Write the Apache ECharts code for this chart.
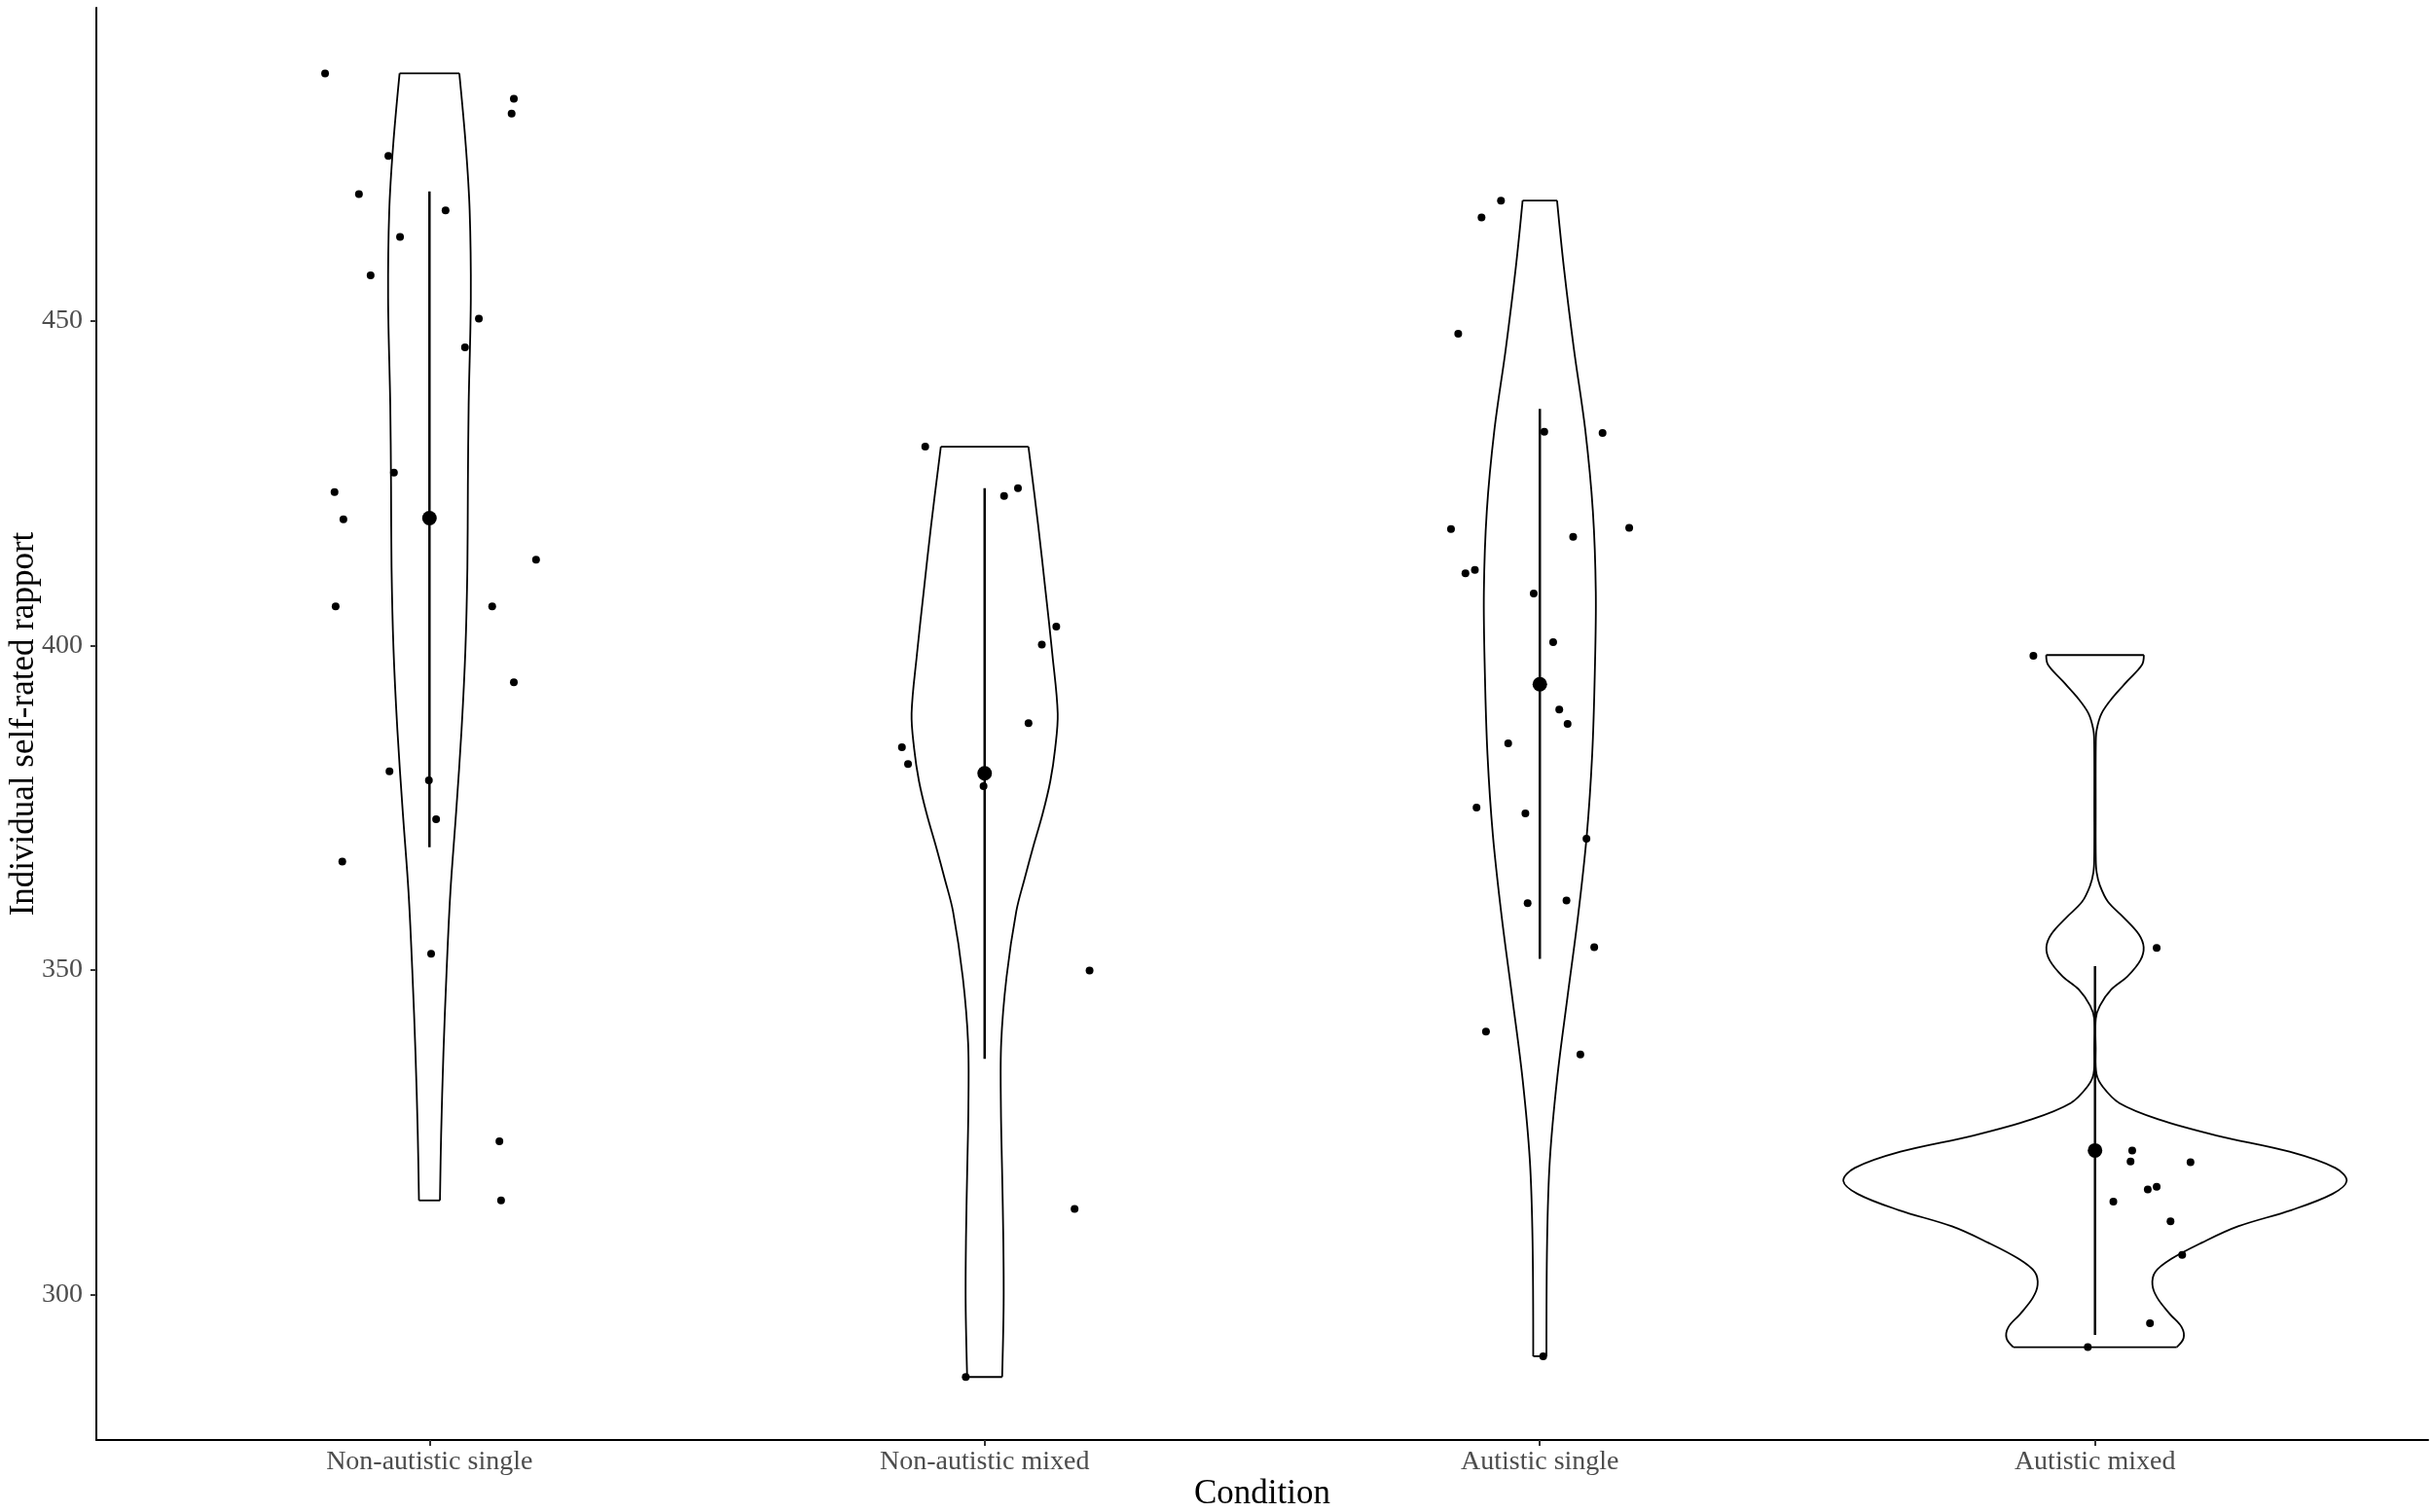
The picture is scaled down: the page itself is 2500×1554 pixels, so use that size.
<!DOCTYPE html>
<html>
<head>
<meta charset="utf-8">
<script src="https://cdn.jsdelivr.net/npm/echarts@6/dist/echarts.min.js"></script>
<style>
  html, body { margin: 0; padding: 0; background: #ffffff; }
  #chart { width: 2500px; height: 1554px; }
</style>
</head>
<body>
<div id="chart"></div>
<script>
// ---------------- DATA ----------------
const categories = ['Non-autistic single', 'Non-autistic mixed', 'Autistic single', 'Autistic mixed'];
const yTicks = [300, 350, 400, 450];

// Individual observations (value) and their horizontal jitter (x-axis units)
const nasValues = [488.1, 484.2, 481.9, 475.4, 469.5, 467.0, 462.9, 457.0, 450.3, 445.9, 426.6, 423.6,
                   419.4, 413.2, 406.0, 406.0, 394.3, 380.6, 379.2, 373.2, 366.7, 352.5, 323.6, 314.5];
const nasJitter = [-0.188, 0.152, 0.148, -0.074, -0.127, 0.029, -0.053, -0.106, 0.089, 0.064, -0.064, -0.171,
                   -0.155, 0.192, -0.169, 0.113, 0.152, -0.072, -0.001, 0.012, -0.157, 0.003, 0.126, 0.129];

const namValues = [430.6, 423.0, 424.2, 402.9, 400.1, 388.0, 384.3, 381.7, 378.3, 349.9, 313.2, 287.3];
const namJitter = [-0.107, 0.035, 0.060, 0.129, 0.103, 0.079, -0.149, -0.138, -0.002, 0.189, 0.162, -0.034];

const asValues = [468.5, 465.9, 448.0, 432.9, 432.7, 417.9, 418.1, 416.7, 411.1, 411.6, 408.0, 400.5,
                  390.1, 387.9, 384.9, 375.0, 374.1, 370.2, 360.3, 360.7, 353.5, 340.5, 337.0, 290.5];
const asJitter = [-0.070, -0.105, -0.147, 0.008, 0.113, -0.160, 0.161, 0.060, -0.134, -0.117, -0.011, 0.024,
                  0.035, 0.050, -0.057, -0.114, -0.026, 0.084, -0.022, 0.048, 0.098, -0.097, 0.073, 0.006];

const amValues = [398.4, 353.4, 322.2, 320.5, 320.4, 316.6, 316.2, 314.3, 311.3, 306.1, 295.6, 291.9];
const amJitter = [-0.111, 0.111, 0.067, 0.064, 0.172, 0.111, 0.095, 0.033, 0.136, 0.157, 0.099, -0.013];

// Summary: mean and error bar limits
const meanValues  = [419.6, 380.3, 394.0, 322.2];
const lowerValues = [368.9, 336.3, 351.7, 293.8];
const upperValues = [469.9, 424.2, 436.4, 350.6];

// Violin outlines: value levels (top -> bottom) and half-widths in x-axis units
const nasViolinY = [488.1, 477.0, 467.0, 453.5, 437.0, 424.5, 412.0, 399.5, 387.0, 374.5, 362.0, 349.5, 337.0, 324.5, 314.5];
const nasViolinW = [0.0538, 0.0654, 0.0724, 0.0745, 0.0706, 0.0692, 0.0683, 0.0648, 0.0578, 0.0482, 0.0377, 0.0307, 0.0251, 0.0210, 0.0189];

const namViolinY = [430.6, 418.5, 408.5, 398.5, 389.5, 384.1, 379.1, 374.1, 369.0, 364.0, 359.0, 348.9, 338.8, 328.8, 318.7, 308.7, 298.6, 287.3];
const namViolinW = [0.0789, 0.0964, 0.1095, 0.1221, 0.1316, 0.1270, 0.1183, 0.1046, 0.0876, 0.0718, 0.0569, 0.0394, 0.0298, 0.0293, 0.0315, 0.0336, 0.0342, 0.0315];

const asViolinY = [468.5, 458.2, 445.7, 433.2, 420.7, 408.2, 395.7, 383.2, 370.8, 358.2, 345.7, 333.3, 320.7, 308.2, 290.5];
const asViolinW = [0.0310, 0.0433, 0.0613, 0.0818, 0.0955, 0.1008, 0.0990, 0.0943, 0.0846, 0.0687, 0.0496, 0.0312, 0.0180, 0.0131, 0.0119];

const amViolinY = [398.5, 397.0, 394.5, 392.0, 389.5, 387.0, 385.0, 375.0, 367.0, 365.0, 363.0, 360.5, 358.0, 355.5, 353.5,
                   351.5, 349.0, 347.0, 344.5, 342.5, 338.0, 334.0, 332.0, 329.5, 327.0, 324.5, 322.0, 319.5, 317.5,
                   315.5, 313.0, 310.5, 308.0, 305.5, 303.5, 301.5, 299.5, 297.0, 295.0, 293.3, 291.9];
const amViolinW = [0.0880, 0.0846, 0.0583, 0.0321, 0.0117, 0.0030, 0.0014, 0.0012, 0.0014, 0.0030, 0.0088, 0.0233, 0.0526, 0.0789, 0.0876,
                   0.0818, 0.0583, 0.0293, 0.0088, 0.0014, 0.0012, 0.0026, 0.0140, 0.0438, 0.1139, 0.2190, 0.3504, 0.4328, 0.4533,
                   0.4275, 0.3531, 0.2576, 0.1927, 0.1375, 0.1086, 0.1034, 0.1121, 0.1349, 0.1559, 0.1595, 0.1472];

// ---------------- BUILD ----------------
const groupValues = [nasValues, namValues, asValues, amValues];
const groupJitter = [nasJitter, namJitter, asJitter, amJitter];
const violinY = [nasViolinY, namViolinY, asViolinY, amViolinY];
const violinW = [nasViolinW, namViolinW, asViolinW, amViolinW];

const jitterData = [];
groupValues.forEach(function (vals, g) {
  vals.forEach(function (v, k) { jitterData.push([g + 1 + groupJitter[g][k], v]); });
});

const FONT = 'Liberation Serif';
const chart = echarts.init(document.getElementById('chart'), null, { renderer: 'canvas' });

const option = {
  animation: false,
  backgroundColor: '#ffffff',
  grid: { left: 99, right: 5, top: 8, bottom: 74, containLabel: false, outerBoundsMode: 'none' },
  xAxis: {
    type: 'value', min: 0.4, max: 4.6,
    name: 'Condition', nameLocation: 'middle', nameGap: 38, nameMoveOverlap: false,
    nameTextStyle: { fontFamily: FONT, fontSize: 35, color: '#000000' },
    axisLine: { show: true, onZero: false, lineStyle: { color: '#000000', width: 2 } },
    axisTick: { show: true, length: 6, customValues: [1, 2, 3, 4], lineStyle: { color: '#333333', width: 2 } },
    axisLabel: {
      show: true, customValues: [1, 2, 3, 4], margin: 9,
      fontFamily: FONT, fontSize: 28, color: '#4D4D4D',
      formatter: function (v) { return categories[Math.round(v) - 1] || ''; }
    },
    splitLine: { show: false }
  },
  yAxis: {
    type: 'value', min: 277.6, max: 498.2,
    name: 'Individual self-rated rapport', nameLocation: 'middle', nameGap: 57, nameRotate: 90, nameMoveOverlap: false,
    nameTextStyle: { fontFamily: FONT, fontSize: 35, color: '#000000' },
    axisLine: { show: true, onZero: false, lineStyle: { color: '#000000', width: 2 } },
    axisTick: { show: true, length: 6, customValues: yTicks, lineStyle: { color: '#333333', width: 2 } },
    axisLabel: {
      show: true, customValues: yTicks, margin: 14,
      fontFamily: FONT, fontSize: 28, color: '#4D4D4D'
    },
    splitLine: { show: false }
  },
  series: [
    {
      name: 'violin', type: 'custom', z: 1,
      data: categories.map(function (c, i) { return [i + 1, meanValues[i]]; }),
      renderItem: function (params, api) {
        const g = params.dataIndex;
        const cx = g + 1;
        const ys = violinY[g], ws = violinW[g];
        const right = ys.map(function (v, k) { return api.coord([cx + ws[k], v]); });
        const left = ys.map(function (v, k) { return api.coord([cx - ws[k], v]); });
        const n = ys.length - 1;
        const style = { stroke: '#000000', lineWidth: 1.8, fill: null };
        return {
          type: 'group',
          children: [
            { type: 'polyline', shape: { points: right, smooth: 0.35 }, style: style },
            { type: 'polyline', shape: { points: left, smooth: 0.35 }, style: style },
            { type: 'line', shape: { x1: left[0][0], y1: left[0][1], x2: right[0][0], y2: right[0][1] }, style: style },
            { type: 'line', shape: { x1: left[n][0], y1: left[n][1], x2: right[n][0], y2: right[n][1] }, style: style }
          ]
        };
      }
    },
    {
      name: 'observations', type: 'scatter', z: 2,
      symbol: 'circle', symbolSize: 8,
      itemStyle: { color: '#000000', opacity: 1 },
      data: jitterData
    },
    {
      name: 'errorbar', type: 'custom', z: 3,
      data: categories.map(function (c, i) { return [i + 1, lowerValues[i], upperValues[i]]; }),
      renderItem: function (params, api) {
        const p1 = api.coord([api.value(0), api.value(1)]);
        const p2 = api.coord([api.value(0), api.value(2)]);
        return { type: 'line', shape: { x1: p1[0], y1: p1[1], x2: p2[0], y2: p2[1] },
                 style: { stroke: '#000000', lineWidth: 2.5 } };
      }
    },
    {
      name: 'mean', type: 'scatter', z: 4,
      symbol: 'circle', symbolSize: 15,
      itemStyle: { color: '#000000', opacity: 1 },
      data: categories.map(function (c, i) { return [i + 1, meanValues[i]]; })
    }
  ]
};
chart.setOption(option);
</script>
</body>
</html>
